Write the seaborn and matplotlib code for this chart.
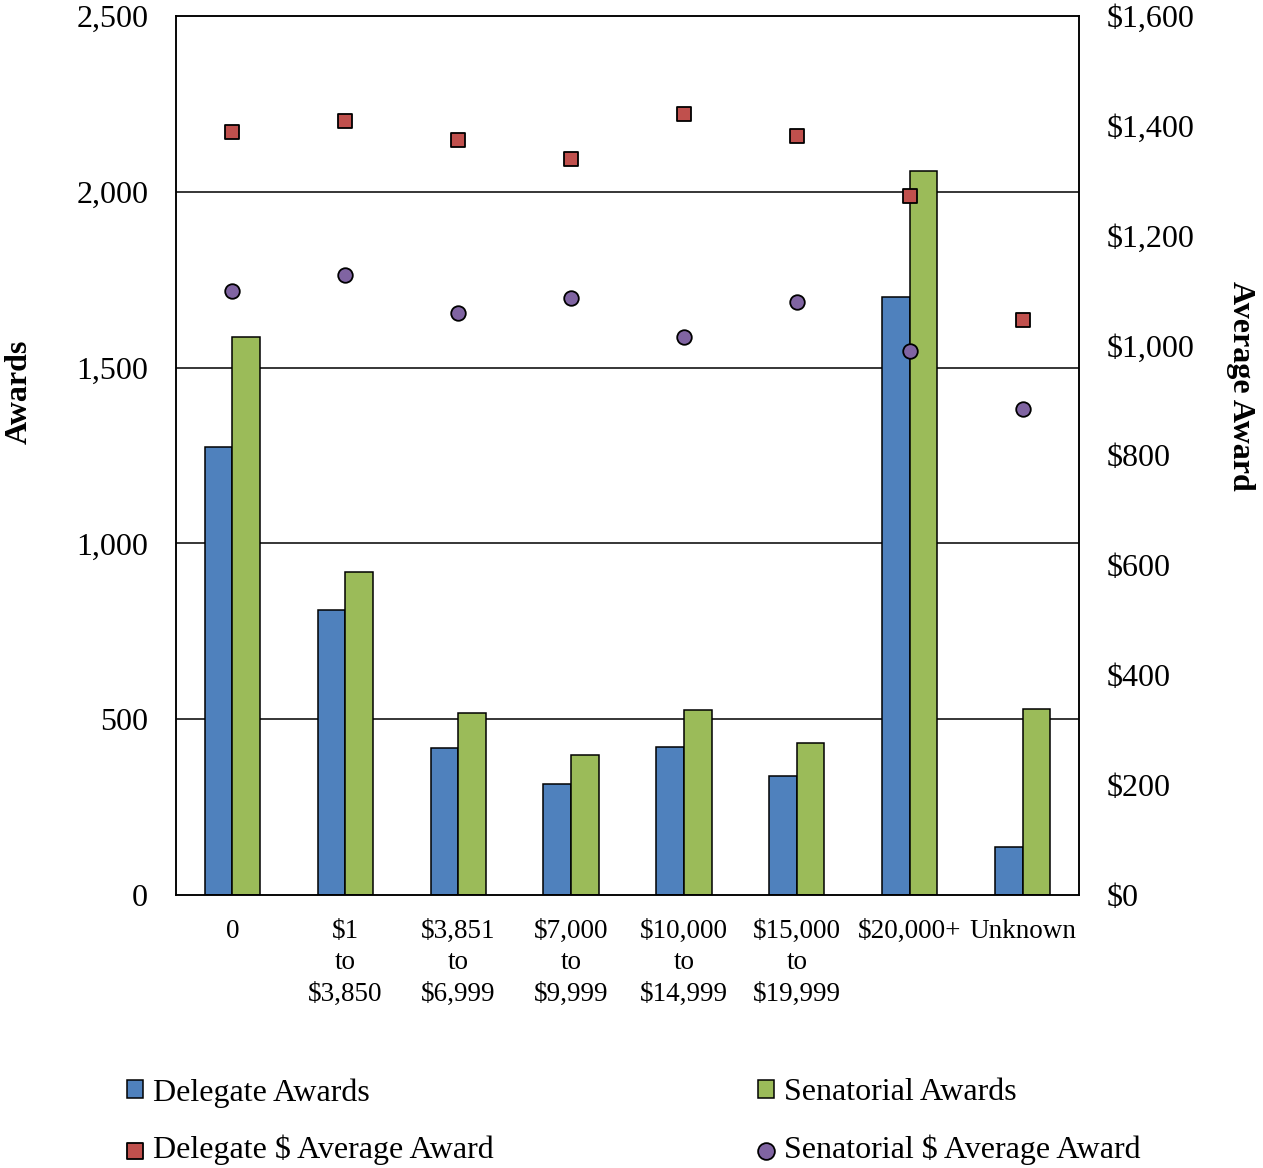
import numpy as np
import pandas as pd
import matplotlib
matplotlib.use("Agg")
import matplotlib.pyplot as plt
import seaborn as sns
from matplotlib.ticker import FuncFormatter, MultipleLocator

# Data
categories = ["0", "$1\nto\n$3,850", "$3,851\nto\n$6,999", "$7,000\nto\n$9,999",
              "$10,000\nto\n$14,999", "$15,000\nto\n$19,999", "$20,000+", "Unknown"]
delegate_awards = [1274, 811, 418, 316, 421, 338, 1701, 137]
senatorial_awards = [1587, 919, 518, 398, 526, 432, 2059, 529]
delegate_avg = [1388, 1408, 1375, 1340, 1422, 1382, 1273, 1047]
senatorial_avg = [1100, 1129, 1060, 1087, 1016, 1080, 991, 885]

blue = "#4F81BD"
green = "#9BBB59"
red = "#C0504D"
purple = "#8064A2"

FS = 23
XFS = 19.5

sns.set_theme(style="white")
plt.rcParams["font.family"] = ["Liberation Serif", "DejaVu Serif"]
plt.rcParams.update({"font.size": FS, "xtick.labelsize": XFS, "ytick.labelsize": FS,
                     "axes.labelsize": FS, "legend.fontsize": FS,
                     "text.color": "black", "axes.labelcolor": "black",
                     "xtick.color": "black", "ytick.color": "black"})

df = pd.DataFrame({
    "category": categories * 2,
    "series": ["Delegate Awards"] * len(categories) + ["Senatorial Awards"] * len(categories),
    "value": delegate_awards + senatorial_awards,
})

fig = plt.figure(figsize=(12.63, 11.68), dpi=100)
W, H = 1263, 1168
ax = fig.add_axes([176 / W, 1 - 895 / H, 903 / W, 879 / H])

sns.barplot(data=df, x="category", y="value", hue="series", order=categories,
            palette={"Delegate Awards": blue, "Senatorial Awards": green},
            width=0.49, gap=0, edgecolor="black", linewidth=1.1,
            saturation=1, ax=ax)
bar_handles, bar_labels = ax.get_legend_handles_labels()
ax.get_legend().remove()

ax.set_xlim(-0.5, len(categories) - 0.5)
ax.set_ylim(0, 2500)
ax.yaxis.set_major_locator(MultipleLocator(500))
ax.yaxis.set_major_formatter(FuncFormatter(lambda v, p: f"{v:,.0f}"))
for yv in [500, 1000, 1500, 2000]:
    ax.axhline(yv, color="black", linewidth=1.1, zorder=0)
ax.set_xlabel("")
ax.set_ylabel("Awards", fontweight="bold", va="center")
ax.yaxis.set_label_coords((19 - 176) / 903, (895 - 392) / 879)
ax.tick_params(axis="y", length=0, pad=20)
ax.tick_params(axis="x", length=0, pad=17)
for t in ax.get_xticklabels():
    t.set_linespacing(1.34)
    t.set_multialignment("center")
for s in ax.spines.values():
    s.set_color("black")
    s.set_linewidth(1.1)

ax2 = ax.twinx()
xpos = np.arange(len(categories))
ax2.scatter(xpos, delegate_avg, marker="s", s=95, color=red, edgecolor="black",
            linewidth=1.3, zorder=5, label="Delegate $ Average Award")
ax2.scatter(xpos, senatorial_avg, marker="o", s=110, color=purple, edgecolor="black",
            linewidth=1.3, zorder=5, label="Senatorial $ Average Award")
ax2.set_ylim(0, 1600)
ax2.yaxis.set_major_locator(MultipleLocator(200))
ax2.yaxis.set_major_formatter(FuncFormatter(lambda v, p: f"${v:,.0f}"))
ax2.tick_params(axis="y", length=0, pad=20)
ax2.set_ylabel("Average Award", fontweight="bold", rotation=270, va="center")
ax2.yaxis.set_label_coords((1240 - 176) / 903, (895 - 386) / 879)
ax2.grid(False)
for s in ax2.spines.values():
    s.set_color("black")
    s.set_linewidth(1.1)

sc_handles, sc_labels = ax2.get_legend_handles_labels()
handles = [bar_handles[0], sc_handles[0], bar_handles[1], sc_handles[1]]
labels = [bar_labels[0], sc_labels[0], bar_labels[1], sc_labels[1]]
fig.legend(handles, labels, ncol=2, loc="upper left",
           bbox_to_anchor=(127 / W, 1 - 1078 / H), frameon=False,
           borderpad=0, borderaxespad=0, handlelength=0.5, handleheight=0.5,
           handletextpad=0.3, columnspacing=8.3, labelspacing=0.85,
           markerscale=1.15, fontsize=FS)

fig.savefig("out.png", dpi=100)
